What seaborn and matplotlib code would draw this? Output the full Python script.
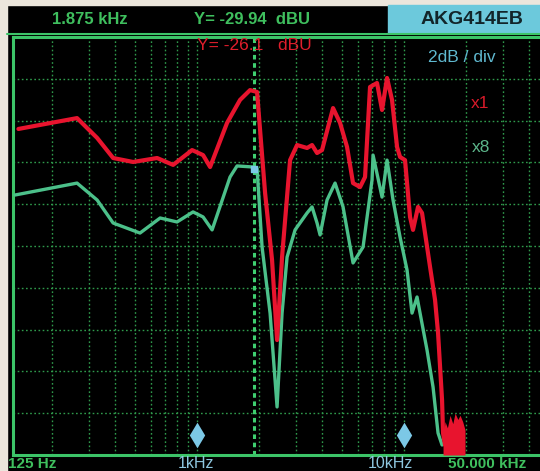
import numpy as np
import pandas as pd
import matplotlib
matplotlib.use("Agg")
import matplotlib.pyplot as plt
from matplotlib.patches import Rectangle
from matplotlib.lines import Line2D
import seaborn as sns

# ---------------- data ----------------
red_freq = [137, 263, 329, 393, 491, 641, 766, 946, 1069, 1156, 1396, 1613, 1803, 1949,
            2131, 2303, 2435, 2574, 2814, 3042, 3400, 3594, 3799, 4017, 4540, 4907, 5304,
            5670, 6130, 6481, 6850, 7405, 7829, 8278, 8750, 9252, 9566, 10111, 10690,
            11050, 11684, 12218, 13356, 14120, 14600, 15265, 15434, 15780]
red_db = [-27.60, -27.08, -28.03, -28.99, -29.18, -28.99, -29.32, -28.61, -28.85, -29.42,
          -27.31, -26.21, -25.74, -25.83, -30.66, -33.87, -37.70, -33.73, -29.09, -28.37,
          -28.51, -28.37, -28.75, -28.61, -26.60, -27.31, -28.46, -30.19, -30.38, -29.90,
          -25.59, -25.40, -26.69, -25.16, -26.21, -28.46, -28.94, -29.09, -31.81, -32.43,
          -31.33, -31.62, -34.20, -35.78, -37.36, -40.57, -42.15, -42.72]

green_freq = [132, 263, 329, 393, 530, 663, 800, 956, 1069, 1182, 1443, 1560, 1865, 1949,
              2061, 2253, 2435, 2574, 2722, 2975, 3400, 3594, 3799, 3929, 4246, 4642, 5074,
              5670, 6339, 7005, 7084, 7829, 8278, 8848, 9566, 10340, 10930, 11555, 11950,
              12915, 13810, 14600, 15265]
green_db = [-30.76, -30.19, -31.00, -32.10, -32.58, -31.86, -32.05, -31.57, -31.81, -32.43,
            -29.90, -29.37, -29.42, -29.50, -33.25, -36.41, -40.90, -36.41, -33.73, -32.43,
            -31.62, -31.33, -32.10, -32.67, -31.00, -30.19, -31.33, -34.01, -33.25, -30.04,
            -28.85, -30.86, -29.09, -31.00, -32.77, -34.35, -36.41, -35.64, -36.41, -38.18,
            -39.95, -42.15, -42.72]

floor_freq = [15434, 15780, 16200, 16685, 17200, 17640, 18200, 18645, 19200, 19710]
floor_db = [-42.4, -41.6, -41.9, -41.3, -41.7, -41.2, -41.5, -41.3, -41.6, -42.0]

marker_freq = [1000, 10000]
cursor_freq = 1875
cursor_green_db = -29.5

grid_freqs = [200, 300, 400, 500, 600, 700, 800, 900, 1000, 2000, 3000, 4000, 5000,
              6000, 7000, 8000, 9000, 10000, 20000, 30000, 40000]
db_top, db_bottom = -23.2, -43.2

# ---------------- figure ----------------
sns.set_theme(style="dark")
plt.rcParams['font.family'] = ['Liberation Sans', 'DejaVu Sans']

W, H = 540, 471
fig = plt.figure(figsize=(W / 100, H / 100), dpi=100, facecolor="#000000")

def fx(px):
    return px / W

def fy(py):
    return 1 - py / H

ax = fig.add_axes([fx(13), fy(455), fx(560) - fx(13), fy(37) - fy(455)])
ax.set_facecolor("#000000")
ax.set_xscale("log")
ax.set_xlim(129, 56700)
ax.set_ylim(db_bottom, db_top)

GRID = "#2f9a4c"
for f in grid_freqs:
    ax.axvline(f, color=GRID, lw=1.0, ls=(0, (1.2, 1.8)), zorder=1)
for k in range(1, 10):
    ax.axhline(db_top - 2 * k, color=GRID, lw=1.0, ls=(0, (1.2, 1.8)), zorder=1)

ax.set_xticks([])
ax.set_yticks([])
ax.minorticks_off()
ax.tick_params(which="both", length=0)
for s in ax.spines.values():
    s.set_color("#3cc468")
    s.set_linewidth(2.2)

# cursor line
ax.axvline(cursor_freq, color="#3fcf70", lw=2.2, ls=(0, (1.5, 1.2)), zorder=2)

red_df = pd.DataFrame({"freq": red_freq, "dB": red_db})
green_df = pd.DataFrame({"freq": green_freq, "dB": green_db})

sns.lineplot(data=green_df, x="freq", y="dB", ax=ax, color="#4cc08a", lw=2.4,
             sort=False, estimator=None, zorder=3)
sns.lineplot(data=red_df, x="freq", y="dB", ax=ax, color="#e8142e", lw=3.0,
             sort=False, estimator=None, zorder=4)
ax.fill_between(floor_freq, floor_db, db_bottom, color="#e8142e", lw=0, zorder=4)
ax.set_xlabel("")
ax.set_ylabel("")

# cyan markers
ax.scatter(marker_freq, [db_bottom + 0.95] * 2, marker="d", s=170, color="#7cc8e6",
           zorder=5, linewidths=0)
ax.scatter([cursor_freq], [cursor_green_db], marker="s", s=18, color="#7cc8e6", zorder=5)

# ---------------- frame / header ----------------
fig.add_artist(Rectangle((0, 0), fx(7), 1, transform=fig.transFigure,
                         color="#ece6dc", zorder=0))
fig.add_artist(Rectangle((0, fy(5)), 1, 1 - fy(5), transform=fig.transFigure,
                         color="#ece6dc", zorder=0))
fig.add_artist(Rectangle((fx(388), fy(33)), 1 - fx(388), fy(5) - fy(33),
                         transform=fig.transFigure, color="#6cc9dc", zorder=1))
fig.add_artist(Line2D([fx(7), 1], [fy(34), fy(34)], transform=fig.transFigure,
                      color="#3cc468", lw=1.5))

fig.text(fx(90), fy(20), "1.875 kHz", color="#3fbf5e", fontsize=12, fontweight="bold",
         ha="center", va="center")
fig.text(fx(252), fy(20), "Y= -29.94  dBU", color="#3fbf5e", fontsize=12,
         fontweight="bold", ha="center", va="center")
fig.text(fx(472), fy(20), "AKG414EB", color="#12252a", fontsize=14, fontweight="bold",
         ha="center", va="center", zorder=3)
fig.text(fx(254), fy(46), "Y= -26.1   dBU", color="#e01e2c", fontsize=12.5,
         ha="center", va="center")
fig.text(fx(462), fy(58), "2dB / div", color="#5fb8cf", fontsize=12.5,
         ha="center", va="center")
fig.text(fx(480), fy(103), "x1", color="#d81a2a", fontsize=12.5, ha="center",
         va="center")
fig.text(fx(481), fy(148), "x8", color="#5cb58a", fontsize=12.5, ha="center",
         va="center")

fig.text(fx(32), fy(464), "125 Hz", color="#3fbf5e", fontsize=11, fontweight="bold",
         ha="center", va="center")
fig.text(fx(196), fy(464), "1kHz", color="#8ec6de", fontsize=11.5, ha="center",
         va="center")
fig.text(fx(390), fy(464), "10kHz", color="#8ec6de", fontsize=11.5, ha="center",
         va="center")
fig.text(fx(448), fy(464), "50.000 kHz", color="#3fbf5e", fontsize=11,
         fontweight="bold", ha="left", va="center")

fig.savefig("out.png", dpi=100, facecolor=fig.get_facecolor())
